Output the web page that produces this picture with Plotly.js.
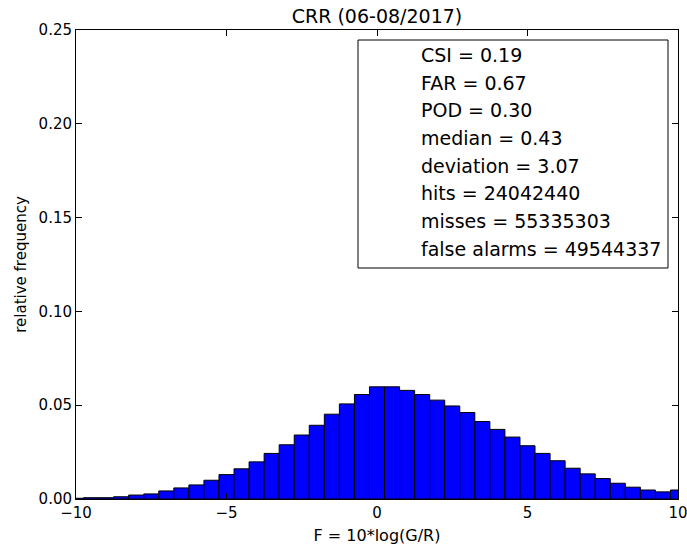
<!DOCTYPE html>
<html>
<head>
<meta charset="utf-8">
<script src="https://cdn.plot.ly/plotly-3.0.1.min.js"></script>
<style>html,body{margin:0;padding:0;background:#fff;}#chart{width:687px;height:548px;}</style>
</head>
<body>
<div id="chart"></div>
<script>
// Histogram bin centres (width 0.5) and relative frequencies
const binCenters = [-10,-9.5,-9,-8.5,-8,-7.5,-7,-6.5,-6,-5.5,-5,-4.5,-4,-3.5,-3,-2.5,-2,-1.5,-1,-0.5,
  0,0.5,1,1.5,2,2.5,3,3.5,4,4.5,5,5.5,6,6.5,7,7.5,8,8.5,9,9.5,10];
const relFreq = [0.0004,0.0007,0.0007,0.0012,0.0021,0.0027,0.0043,0.0059,0.0075,0.0100,
  0.0130,0.0161,0.0198,0.0243,0.0289,0.0341,0.0393,0.0452,0.0507,0.0557,
  0.0598,0.0598,0.0579,0.0557,0.0527,0.0496,0.0461,0.0413,0.0371,0.0330,
  0.0284,0.0243,0.0204,0.0164,0.0134,0.0109,0.0084,0.0063,0.0048,0.0038,0.0048];
const statLabels = ["CSI","FAR","POD","median","deviation","hits","misses","false alarms"];
const statValues = ["0.19","0.67","0.30","0.43","3.07","24042440","55335303","49544337"];
const xTicks = [-10,-5,0,5,10];
const yTicks = [0,0.05,0.10,0.15,0.20,0.25];

const FONT = "DejaVu Sans, sans-serif";
const plotH = 469;
const lineY = [55,82.7,110.3,138,165.7,193.3,221,248.5];
const annotations = statLabels.map((l,i)=>({
  xref:'paper', yref:'paper', x:0.5698, y:(499-lineY[i])/plotH,
  xanchor:'left', yanchor:'middle', showarrow:false,
  text: l + ' = ' + statValues[i],
  font:{family:FONT, size:19, color:'#000'}
}));

const trace = {
  type:'bar', x:binCenters, y:relFreq, width:0.5,
  marker:{color:'#0000ff', line:{color:'#000', width:1}},
  hoverinfo:'x+y'
};

const layout = {
  width:687, height:548,
  margin:{l:76, r:9, t:30, b:49, pad:0},
  paper_bgcolor:'#fff', plot_bgcolor:'#fff',
  font:{family:FONT, color:'#000', size:15},
  showlegend:false, bargap:0,
  title:{text:'CRR (06-08/2017)', xref:'paper', x:0.5, xanchor:'center',
    yref:'container', y:1-16/548, yanchor:'middle', font:{family:FONT, size:19, color:'#000'}},
  xaxis:{range:[-10,10], tickvals:xTicks, ticktext:xTicks.map(v=>v<0?'\u2212'+Math.abs(v):String(v)),
    ticks:'inside', ticklen:6, tickwidth:1, tickcolor:'#000', ticklabeloverflow:'allow',
    showline:true, linecolor:'#000', linewidth:1, mirror:'ticks',
    showgrid:false, zeroline:false,
    tickfont:{family:FONT, size:15, color:'#000'},
    title:{text:'F = 10*log(G/R)', font:{family:FONT, size:16, color:'#000'}, standoff:8}},
  yaxis:{range:[0,0.25], tickvals:yTicks, tickformat:'.2f',
    ticks:'inside', ticklen:6, tickwidth:1, tickcolor:'#000',
    showline:true, linecolor:'#000', linewidth:1, mirror:'ticks',
    showgrid:false, zeroline:false,
    tickfont:{family:FONT, size:15, color:'#000'},
    title:{text:'relative frequency', font:{family:FONT, size:15, color:'#000'}, standoff:8}},
  shapes:[{type:'rect', xref:'paper', yref:'paper',
    x0:(358-76)/602, x1:(668-76)/602, y0:(499-268)/plotH, y1:(499-40)/plotH,
    line:{color:'#000', width:1}, fillcolor:'rgba(0,0,0,0)'}],
  annotations:annotations
};

Plotly.newPlot('chart',[trace],layout,{displayModeBar:false, staticPlot:true});
</script>
</body>
</html>
